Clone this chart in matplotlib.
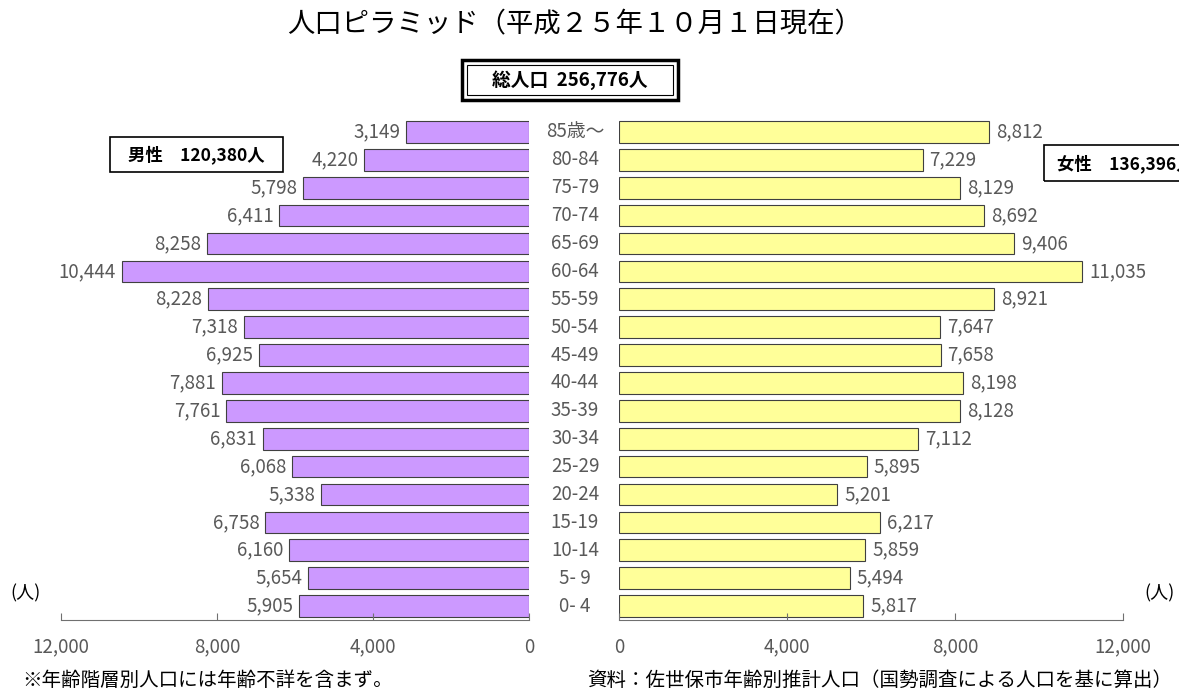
import matplotlib
matplotlib.use("Agg")
import matplotlib.pyplot as plt
from matplotlib.patches import Rectangle

plt.rcParams['font.family'] = ['Noto Sans CJK JP', 'DejaVu Sans']

ages = ["85歳～", "80-84", "75-79", "70-74", "65-69", "60-64", "55-59", "50-54",
        "45-49", "40-44", "35-39", "30-34", "25-29", "20-24", "15-19", "10-14",
        "5- 9", "0- 4"]
male = [3149, 4220, 5798, 6411, 8258, 10444, 8228, 7318, 6925, 7881, 7761,
        6831, 6068, 5338, 6758, 6160, 5654, 5905]
female = [8812, 7229, 8129, 8692, 9406, 11035, 8921, 7647, 7658, 8198, 8128,
          7112, 5895, 5201, 6217, 5859, 5494, 5817]
ticks = [0, 4000, 8000, 12000]
tick_labels = ["0", "4,000", "8,000", "12,000"]

title = "人口ピラミッド（平成２５年１０月１日現在）"
total_text = "総人口  256,776人"
male_text = "男性　120,380人"
female_text = "女性　136,396人"

W, H = 1179, 690
fig = plt.figure(figsize=(W / 100, H / 100), dpi=100)

n = len(ages)
ypos = [n - 1 - i for i in range(n)]
grey = "#595959"
fs = 13.5

axL = fig.add_axes([61 / W, 1 - 620 / H, 468 / W, 502 / H])
axR = fig.add_axes([619 / W, 1 - 620 / H, 504 / W, 502 / H])

axL.barh(ypos, male, height=0.78, color="#CC99FF", edgecolor="#404040", linewidth=0.8)
axR.barh(ypos, female, height=0.78, color="#FFFF99", edgecolor="#404040", linewidth=0.8)

for ax in (axL, axR):
    ax.set_ylim(-0.5, n - 0.5)
    ax.set_xticks(ticks)
    ax.set_xticklabels(tick_labels)
    ax.set_yticks([])
    for s in ("top", "left", "right"):
        ax.spines[s].set_visible(False)
    ax.spines["bottom"].set_color("#707070")
    ax.tick_params(axis="x", direction="in", length=5, color="#707070",
                   labelsize=fs, labelcolor=grey, pad=12)
axL.set_xlim(12000, 0)
axR.set_xlim(0, 12000)

for y, v in zip(ypos, male):
    axL.annotate(f"{v:,}", (v, y), xytext=(-4, 0), textcoords="offset points",
                 ha="right", va="center", fontsize=fs, color=grey)
for y, v in zip(ypos, female):
    axR.annotate(f"{v:,}", (v, y), xytext=(5, 0), textcoords="offset points",
                 ha="left", va="center", fontsize=fs, color=grey)

for y, a in zip(ypos, ages):
    axL.annotate(a, (0, y), xytext=(575 - 529, 0), textcoords="offset pixels",
                 ha="center", va="center", fontsize=fs, color=grey,
                 annotation_clip=False)

fig.text(575 / W, 1 - 25 / H, title, ha="center", va="center", fontsize=19.7, color="black")

# total box (double border)
fig.patches.append(Rectangle((462 / W, 1 - 100 / H), 216 / W, 40 / H, transform=fig.transFigure,
                             fill=False, edgecolor="black", linewidth=2.5))
fig.patches.append(Rectangle((467 / W, 1 - 95 / H), 206 / W, 30 / H, transform=fig.transFigure,
                             fill=False, edgecolor="black", linewidth=0.8))
fig.text(570 / W, 1 - 80 / H, total_text, ha="center", va="center", fontsize=13.5,
         fontweight="bold", color="black")

fig.patches.append(Rectangle((110 / W, 1 - 172 / H), 173 / W, 35 / H, transform=fig.transFigure,
                             fill=False, edgecolor="black", linewidth=1.2))
fig.text(196 / W, 1 - 155 / H, male_text, ha="center", va="center", fontsize=12.5,
         fontweight="bold", color="black")

fig.patches.append(Rectangle((1044 / W, 1 - 181 / H), 173 / W, 36 / H, transform=fig.transFigure,
                             fill=False, edgecolor="black", linewidth=1.2))
fig.text(1057 / W, 1 - 164 / H, female_text, ha="left", va="center", fontsize=12.5,
         fontweight="bold", color="black")

fig.text(25 / W, 1 - 593 / H, "(人)", ha="center", va="center", fontsize=13, color="black")
fig.text(1160 / W, 1 - 593 / H, "(人)", ha="center", va="center", fontsize=13, color="black")

fig.text(22 / W, 1 - 680 / H, "※年齢階層別人口には年齢不詳を含まず。", ha="left", va="center",
         fontsize=14, color="black")
fig.text(1172 / W, 1 - 680 / H, "資料：佐世保市年齢別推計人口（国勢調査による人口を基に算出）",
         ha="right", va="center", fontsize=14, color="black")

fig.savefig("out.png", dpi=100)
